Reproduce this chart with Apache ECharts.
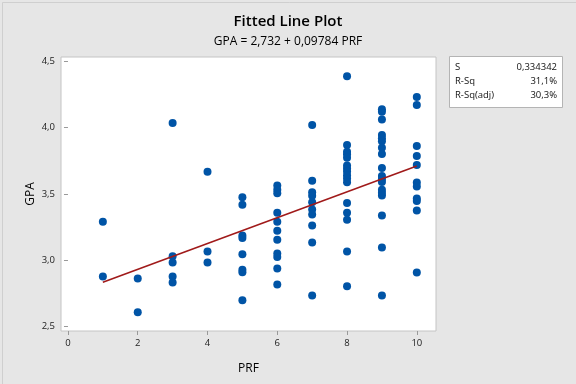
<!DOCTYPE html>
<html><head><meta charset="utf-8">
<script src="https://cdn.jsdelivr.net/npm/echarts@6/dist/echarts.min.js"></script>
<style>html,body{margin:0;padding:0;background:#e6e6e6}#c{width:576px;height:384px}</style>
</head><body><div id="c"></div>
<script>
var prf = [1,1, 2,2, 3,3,3,3,3, 4,4,4,
  5,5,5,5,5,5,5,5,
  6,6,6,6,6,6,6,6,6,6,6,
  7,7,7,7,7,7,7,7,7,7,
  8,8,8,8,8,8,8,8,8,8,8,8,8,8,8,8,
  9,9,9,9,9,9,9,9,9,9,9,9,9,9,9,9,9,9,
  10,10,10,10,10,10,10,10,10,10,10];
var gpa = [3.289,2.875, 2.859,2.603, 4.035,3.027,2.980,2.875,2.829, 3.666,3.063,2.980,
  3.474,3.417,3.184,3.165,3.042,2.925,2.906,2.695,
  3.563,3.531,3.505,3.356,3.288,3.221,3.153,3.048,3.022,2.935,2.814,
  4.021,3.599,3.512,3.486,3.437,3.382,3.343,3.260,3.132,2.731,
  4.390,3.870,3.819,3.799,3.772,3.715,3.692,3.668,3.641,3.615,3.588,3.430,3.357,3.304,3.064,2.800,
  4.140,4.120,4.062,3.945,3.920,3.898,3.849,3.801,3.696,3.635,3.612,3.590,3.530,3.508,3.488,3.335,3.093,2.731,
  4.232,4.171,3.862,3.786,3.718,3.585,3.555,3.465,3.446,3.373,2.905];
var fitX = [1, 10];
var fitY = [2.830, 3.710];
var xTicks = [0,2,4,6,8,10];
var yTicks = [2.5,3.0,3.5,4.0,4.5];
var statNames = ['S','R-Sq','R-Sq(adj)'];
var statValues = ['0,334342','31,1%','30,3%'];

var pts = prf.map(function(x,i){return [x,gpa[i]];});
var fit = fitX.map(function(x,i){return [x,fitY[i]];});
var font = 'Open Sans';
var gfx = [
  {type:'rect', left:0, top:0, shape:{x:0.5,y:0.5,width:575,height:383}, style:{fill:'none',stroke:'#cfcfcf',lineWidth:1}},
  {type:'rect', shape:{x:449.5,y:56.5,width:113,height:51}, style:{fill:'#fff',stroke:'#b4b4b4',lineWidth:1}}
];
statNames.forEach(function(n,i){
  gfx.push({type:'text', x:455, y:67+i*14, style:{text:n, fill:'#111', font:'9.5px "Open Sans"', textVerticalAlign:'middle'}});
  gfx.push({type:'text', x:557, y:67+i*14, style:{text:statValues[i], fill:'#111', font:'9.5px "Open Sans"', textAlign:'right', textVerticalAlign:'middle'}});
});
var chart = echarts.init(document.getElementById('c'));
chart.setOption({
  backgroundColor:'#e6e6e6',
  animation:false,
  title:[{text:'Fitted Line Plot', left:'center', top:9, textStyle:{fontFamily:font,fontSize:15,fontWeight:600,color:'#000'}},
         {text:'GPA = 2,732 + 0,09784 PRF', left:'center', top:31, textStyle:{fontFamily:font,fontSize:12,fontWeight:'normal',color:'#000'}}],
  grid:{left:61, right:140, top:57, bottom:53, show:true, backgroundColor:'#fff', borderColor:'#c4c4c4', borderWidth:1},
  xAxis:{type:'value', min:-0.2, max:10.55, name:'PRF', nameLocation:'middle', nameGap:32,
    nameTextStyle:{fontFamily:font,fontSize:12,color:'#000'},
    axisLine:{show:false}, splitLine:{show:false},
    axisTick:{show:true, length:4, lineStyle:{color:'#999'}, customValues:xTicks},
    axisLabel:{fontFamily:font,fontSize:9.5,color:'#222',margin:7, customValues:xTicks}},
  yAxis:{type:'value', min:2.462, max:4.535, name:'GPA', nameLocation:'middle', nameGap:24, nameMoveOverlap:false,
    nameTextStyle:{fontFamily:font,fontSize:12,color:'#000'},
    axisLine:{show:false}, splitLine:{show:false},
    axisTick:{show:true, length:4, lineStyle:{color:'#999'}, customValues:yTicks},
    axisLabel:{fontFamily:font,fontSize:9.5,color:'#222',margin:6, customValues:yTicks,
      formatter:function(v){return v.toFixed(1).replace('.',',');}}},
  series:[
    {type:'scatter', data:pts, symbolSize:8, itemStyle:{color:'#0054a6', opacity:1}, z:3},
    {type:'line', data:fit, symbol:'none', lineStyle:{color:'#a01a1a', width:1.6}, z:4}
  ],
  graphic:gfx
});
</script></body></html>
